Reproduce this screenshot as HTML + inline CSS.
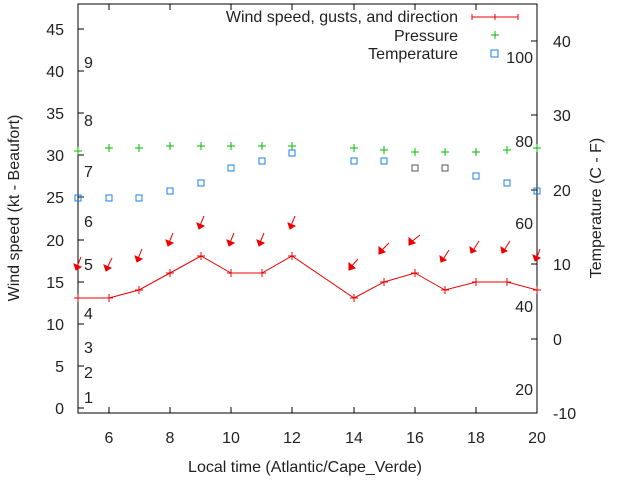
<!DOCTYPE html>
<html><head><style>body{margin:0;background:#fff}svg{display:block}text{font-family:"Liberation Sans",sans-serif;font-size:16px;fill:#222}</style></head><body>
<svg width="640" height="480" viewBox="0 0 640 480" xmlns="http://www.w3.org/2000/svg">
<rect x="78" y="4" width="459" height="409" fill="none" stroke="#000" stroke-width="1"/>
<g stroke="#000" stroke-width="1">
<path d="M78 408h6M78 366h6M78 324h6M78 282h6M78 240h6M78 197h6M78 155h6M78 113h6M78 71h6M78 29h6"/>
<path d="M537 413h-6M537 339h-6M537 264h-6M537 190h-6M537 115h-6M537 41h-6"/>
<path d="M109 413v-6M170 413v-6M231 413v-6M292 413v-6M354 413v-6M415 413v-6M476 413v-6M109 4v6M170 4v6M231 4v6M292 4v6M354 4v6M415 4v6M476 4v6"/>
</g>
<g text-anchor="end">
<text x="64" y="414">0</text><text x="64" y="372">5</text><text x="64" y="330">10</text><text x="64" y="288">15</text><text x="64" y="246">20</text><text x="64" y="203">25</text><text x="64" y="161">30</text><text x="64" y="119">35</text><text x="64" y="77">40</text><text x="64" y="35">45</text>
<text x="533" y="395">20</text><text x="533" y="312">40</text><text x="533" y="229">60</text><text x="533" y="147">80</text><text x="533" y="63">100</text>
<text x="458" y="22">Wind speed, gusts, and direction</text><text x="458" y="41">Pressure</text><text x="458" y="59">Temperature</text>
</g>
<g>
<text x="84" y="403">1</text><text x="84" y="378">2</text><text x="84" y="353">3</text><text x="84" y="319">4</text><text x="84" y="270">5</text><text x="84" y="227">6</text><text x="84" y="177">7</text><text x="84" y="126">8</text><text x="84" y="68">9</text>
<text x="553" y="419">-10</text><text x="553" y="345">0</text><text x="553" y="270">10</text><text x="553" y="196">20</text><text x="553" y="121">30</text><text x="553" y="47">40</text>
</g>
<g text-anchor="middle">
<text x="109" y="443">6</text><text x="170" y="443">8</text><text x="231" y="443">10</text><text x="292" y="443">12</text><text x="354" y="443">14</text><text x="415" y="443">16</text><text x="476" y="443">18</text><text x="537" y="443">20</text>
<text x="305" y="472">Local time (Atlantic/Cape_Verde)</text>
<text transform="translate(19,208) rotate(-90)">Wind speed (kt - Beaufort)</text>
<text transform="translate(601,208) rotate(-90)">Temperature (C - F)</text>
</g>
<path d="M472 17h46M472 14v6M495 14v6M518 14v6" stroke="#e00" fill="none"/>
<path d="M491 35h8M495 31v8" stroke="#0b0"/>
<rect x="491" y="50" width="7" height="7" fill="none" stroke="#1a7fe8"/>
<polyline fill="none" stroke="#e00" points="78,298 109,298 139,290 170,273 201,256 231,273 262,273 292,256 354,298 384,282 415,273 445,290 476,282 507,282 537,290"/>
<g stroke="#e00" fill="none"><path d="M78 294v8M109 294v8M139 286v8M170 269v8M201 252v8M231 269v8M262 269v8M292 252v8M354 294v8M384 278v8M415 269v8M445 286v8M476 278v8M507 278v8M537 286v8M74 298h8M105 298h8M135 290h8M166 273h8M197 256h8M227 273h8M258 273h8M288 256h8M350 298h8M380 282h8M411 273h8M441 290h8M472 282h8M503 282h8M533 290h8"/></g>
<g stroke="#e00" fill="#e00" stroke-width="1">
<path d="M81 257L76 269"/><path d="M74 264l2 6l5-3z"/>
<path d="M112 258L106 270"/><path d="M104 265l2 6l5-3z"/>
<path d="M142 249L137 261"/><path d="M135 256l2 6l5-3z"/>
<path d="M173 233L168 245"/><path d="M166 240l2 6l5-3z"/>
<path d="M204 216L199 228"/><path d="M197 223l2 6l5-3z"/>
<path d="M234 233L229 245"/><path d="M227 240l2 6l5-3z"/>
<path d="M264 233L259 245"/><path d="M257 240l2 6l5-3z"/>
<path d="M295 216L290 228"/><path d="M288 223l2 6l5-3z"/>
<path d="M358 259L350 268"/><path d="M349 263l0 7l6-2z"/>
<path d="M389 243L380 252"/><path d="M379 247l0 7l6-2z"/>
<path d="M420 235L410 243"/><path d="M409 238l0 7l6-2z"/>
<path d="M449 250L442 261"/><path d="M440 256l1 6l5-2z"/>
<path d="M479 241L472 252"/><path d="M470 247l1 6l5-2z"/>
<path d="M510 241L503 252"/><path d="M501 247l1 6l5-2z"/>
<path d="M540 249L536 260"/><path d="M533 255l2 6l5-3z"/>
</g>
<g stroke="#0b0" fill="none"><path d="M74 151h8M78 147v8M105 148h8M109 144v8M135 148h8M139 144v8M166 146h8M170 142v8M197 146h8M201 142v8M227 146h8M231 142v8M258 146h8M262 142v8M288 146h8M292 142v8M350 148h8M354 144v8M380 150h8M384 146v8M411 152h8M415 148v8M441 152h8M445 148v8M472 152h8M476 148v8M503 150h8M507 146v8M533 148h8M537 144v8"/></g>
<g stroke="#1a7fe8" fill="none">
<rect x="75" y="195" width="6" height="6"/><rect x="106" y="195" width="6" height="6"/><rect x="136" y="195" width="6" height="6"/><rect x="167" y="188" width="6" height="6"/><rect x="198" y="180" width="6" height="6"/><rect x="228" y="165" width="6" height="6"/><rect x="259" y="158" width="6" height="6"/><rect x="289" y="150" width="6" height="6"/><rect x="351" y="158" width="6" height="6"/><rect x="381" y="158" width="6" height="6"/><rect x="412" y="165" width="6" height="6" stroke="#555"/><rect x="442" y="165" width="6" height="6" stroke="#555"/><rect x="473" y="173" width="6" height="6"/><rect x="504" y="180" width="6" height="6"/><rect x="534" y="188" width="6" height="6"/>
</g>
</svg>
</body></html>
